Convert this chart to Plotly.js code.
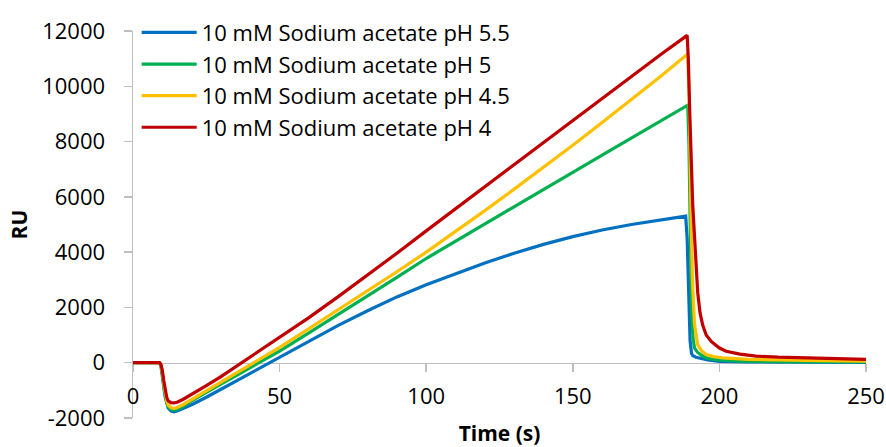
<!DOCTYPE html>
<html>
<head>
<meta charset="utf-8">
<script src="https://cdn.plot.ly/plotly-3.0.1.min.js"></script>
<style>html,body{margin:0;padding:0;background:#fff;}#chart{width:886px;height:447px;}</style>
</head>
<body>
<div id="chart"></div>
<script>
// Series names
const seriesNames = ['10 mM Sodium acetate pH 5.5', '10 mM Sodium acetate pH 5', '10 mM Sodium acetate pH 4.5', '10 mM Sodium acetate pH 4'];

// pH 5.5 (blue)
const tBlue = [0, 5, 9, 9.5, 10, 10.5, 11, 11.5, 12, 13, 14, 15, 17, 20, 25, 30, 35, 40, 45, 50, 60, 70, 80, 90, 100, 110, 120, 130, 140, 150, 160, 170, 180, 188.5, 189, 189.5, 190, 190.5, 191, 192, 194, 196, 200, 210, 230, 250];
const ruBlue = [0, 0, 0, -90, -400, -880, -1250, -1500, -1640, -1750, -1776, -1750, -1660, -1520, -1250, -960, -670, -380, -90, 200, 790, 1350, 1880, 2380, 2820, 3230, 3610, 3960, 4280, 4560, 4800, 5000, 5170, 5300, 4500, 2500, 800, 330, 250, 200, 140, 100, 50, 30, 20, 15];

// pH 5 (green)
const tGreen = [0, 5, 9, 9.5, 10, 10.5, 11, 11.5, 12, 13, 14, 15, 17, 20, 25, 30, 35, 40, 45, 50, 60, 70, 80, 90, 100, 110, 120, 130, 140, 150, 160, 170, 180, 189.2, 189.6, 190, 190.5, 191, 191.5, 192.5, 194, 195.5, 198, 201, 207, 220, 250];
const ruGreen = [0, 0, 0, -80, -370, -830, -1200, -1450, -1590, -1690, -1715, -1690, -1590, -1380, -1070, -770, -480, -190, 110, 420, 1080, 1740, 2410, 3090, 3770, 4400, 5020, 5640, 6270, 6890, 7510, 8140, 8760, 9318, 8000, 5000, 2000, 900, 533, 380, 260, 178, 120, 90, 60, 40, 25];

// pH 4.5 (yellow)
const tYellow = [0, 5, 9, 9.5, 10, 10.5, 11, 11.5, 12, 13, 14, 15, 17, 20, 25, 30, 35, 40, 45, 50, 60, 70, 80, 90, 100, 110, 120, 130, 140, 150, 160, 170, 180, 189.2, 189.7, 190.2, 190.8, 191.5, 192.6, 194, 195.5, 198, 201, 210, 220, 235, 250];
const ruYellow = [0, 0, 0, -70, -330, -760, -1130, -1380, -1530, -1630, -1655, -1620, -1520, -1330, -1020, -710, -400, -70, 250, 557, 1230, 1910, 2600, 3290, 4000, 4740, 5500, 6280, 7070, 7870, 8690, 9520, 10360, 11170, 9500, 6000, 3000, 1400, 653, 420, 298, 220, 178, 120, 95, 75, 60];

// pH 4 (red)
const tRed = [0, 5, 9, 9.5, 10, 10.5, 11, 11.5, 12, 13, 14, 15, 17, 20, 25, 30, 35, 40, 45, 50, 60, 70, 80, 90, 100, 110, 120, 130, 140, 150, 160, 170, 180, 189, 189.4, 189.9, 190.4, 190.9, 191.5, 192, 192.6, 193.4, 194.3, 195.5, 197.2, 200, 202.3, 207, 212.5, 220, 230, 240, 250];
const ruRed = [0, 0, 0, -60, -280, -650, -1000, -1250, -1380, -1445, -1456, -1430, -1330, -1150, -830, -500, -150, 230, 560, 900, 1630, 2390, 3170, 3960, 4770, 5570, 6370, 7170, 7970, 8770, 9580, 10380, 11150, 11840, 11000, 9000, 7000, 5700, 4600, 3400, 2546, 1800, 1364, 1000, 770, 530, 415, 310, 238, 200, 175, 150, 120];

// Tick labels
const xTickVals = [0, 50, 100, 150, 200, 250];
const xTickText = ['0', '50', '100', '150', '200', '250'];
const yTickVals = [-2000, 0, 2000, 4000, 6000, 8000, 10000, 12000];
const yTickText = ['-2000', '0', '2000', '4000', '6000', '8000', '10000', '12000'];

const colors = ['#0070C0', '#00B050', '#FFC000', '#C00000'];
const xs = [tBlue, tGreen, tYellow, tRed];
const ys = [ruBlue, ruGreen, ruYellow, ruRed];

const traces = seriesNames.map((n, i) => ({
  type: 'scatter', mode: 'lines', name: n,
  x: xs[i], y: ys[i],
  line: {color: colors[i], width: 3.2},
  hoverinfo: 'skip'
}));

const FONT = 'Open Sans, Lato, sans-serif';
const axisGray = '#bfbfbf';

const layout = {
  width: 886, height: 447,
  margin: {l: 133, r: 20, t: 24, b: 29},
  paper_bgcolor: '#ffffff', plot_bgcolor: '#ffffff',
  font: {family: FONT, size: 22, color: '#000000'},
  showlegend: true,
  legend: {
    x: 0.005, y: 1.05, xanchor: 'left', yanchor: 'top',
    bgcolor: 'rgba(0,0,0,0)', borderwidth: 0,
    font: {family: FONT, size: 22, color: '#000000'},
    itemwidth: 55, tracegroupgap: 0
  },
  xaxis: {
    range: [0, 250], anchor: 'free', position: 2000 / 14000,
    tickmode: 'array', tickvals: xTickVals, ticktext: xTickText,
    showline: true, linecolor: axisGray, linewidth: 1.5,
    ticks: 'outside', ticklen: 8, tickcolor: axisGray, tickwidth: 1.5,
    showgrid: false, zeroline: false, layer: 'below traces',
    ticklabelstandoff: 5,
    title: {text: '<b>Time (s)</b>', font: {family: FONT, size: 21}, standoff: 23}
  },
  yaxis: {
    range: [-2000, 12000],
    tickmode: 'array', tickvals: yTickVals, ticktext: yTickText,
    showline: true, linecolor: axisGray, linewidth: 1.5,
    ticks: 'outside', ticklen: 8, tickcolor: axisGray, tickwidth: 1.5,
    showgrid: false, zeroline: false, layer: 'below traces',
    ticklabelstandoff: 14,
    title: {text: '<b>RU</b>', font: {family: FONT, size: 21}, standoff: 9}
  }
};

Plotly.newPlot('chart', traces, layout, {displayModeBar: false, staticPlot: true});
</script>
</body>
</html>
